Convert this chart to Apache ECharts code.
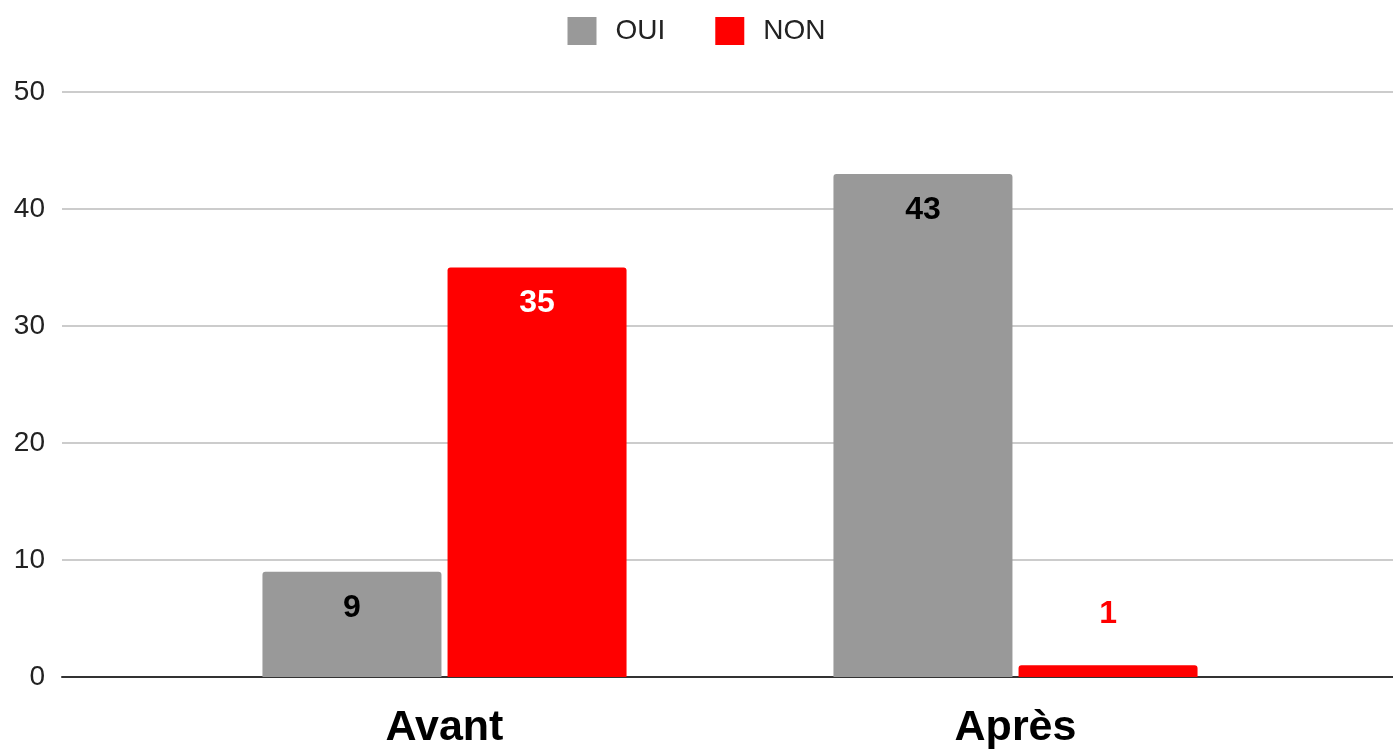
<!DOCTYPE html>
<html>
<head>
<meta charset="utf-8">
<script src="https://cdn.jsdelivr.net/npm/echarts@6/dist/echarts.min.js"></script>
<style>
html,body{margin:0;padding:0;background:#fff;}
#chart{width:1393px;height:750px;}
</style>
</head>
<body>
<div id="chart"></div>
<script>
const categories = ['Avant', 'Après'];
const seriesNames = ['OUI', 'NON'];
const ouiValues = [9, 43];
const nonValues = [35, 1];
const yTicks = [0, 10, 20, 30, 40, 50];

const FONT = '"Liberation Sans", Arial, sans-serif';
const chart = echarts.init(document.getElementById('chart'));

function mkData(vals, insideColor, smallColor) {
  return vals.map(v => {
    if (v < 5) {
      return { value: v, label: { position: 'top', distance: 35, color: smallColor } };
    }
    return { value: v, label: { color: insideColor } };
  });
}

const option = {
  animation: false,
  backgroundColor: '#ffffff',
  legend: {
    top: 12,
    left: 'center',
    itemWidth: 29,
    itemHeight: 28,
    itemGap: 50,
    icon: 'rect',
    data: seriesNames,
    textStyle: { fontFamily: FONT, fontSize: 28, color: '#222', padding: [0, 0, 0, 14] }
  },
  grid: [
    { left: 62, right: 0, top: 92, bottom: 73, containLabel: false, outerBoundsMode: 'none' },
    { left: 159, right: 92, top: 92, bottom: 73, containLabel: false, outerBoundsMode: 'none' }
  ],
  xAxis: [
    {
      gridIndex: 0, type: 'value', min: 0, max: 1,
      axisLine: { show: true, lineStyle: { color: '#333', width: 2 } },
      axisTick: { show: false }, axisLabel: { show: false }, splitLine: { show: false }
    },
    {
      gridIndex: 1, type: 'category', data: categories,
      axisLine: { show: false }, axisTick: { show: false },
      axisLabel: { fontFamily: FONT, fontSize: 43, fontWeight: 'bold', color: '#000', margin: 30 }
    }
  ],
  yAxis: [
    {
      gridIndex: 0, type: 'value', min: yTicks[0], max: yTicks[yTicks.length - 1], interval: 10,
      axisLine: { show: false }, axisTick: { show: false },
      axisLabel: { fontFamily: FONT, fontSize: 28, color: '#222', margin: 17, padding: [6, 0, 0, 0] },
      splitLine: { show: true, lineStyle: { color: '#cccccc', width: 2 } }
    },
    {
      gridIndex: 1, type: 'value', min: 0, max: 50, interval: 10,
      show: false, splitLine: { show: false }
    }
  ],
  series: [
    {
      name: seriesNames[0], type: 'bar', xAxisIndex: 1, yAxisIndex: 1,
      data: mkData(ouiValues, '#000', '#999'),
      barWidth: 179, barGap: '3.4%',
      itemStyle: { color: '#999999', borderRadius: [3, 3, 0, 0] },
      label: { show: true, position: 'insideTop', distance: 20, fontFamily: FONT, fontSize: 32, fontWeight: 'bold' }
    },
    {
      name: seriesNames[1], type: 'bar', xAxisIndex: 1, yAxisIndex: 1,
      data: mkData(nonValues, '#fff', '#ff0000'),
      barWidth: 179,
      itemStyle: { color: '#ff0000', borderRadius: [3, 3, 0, 0] },
      label: { show: true, position: 'insideTop', distance: 20, fontFamily: FONT, fontSize: 32, fontWeight: 'bold' }
    }
  ]
};
chart.setOption(option);
</script>
</body>
</html>
